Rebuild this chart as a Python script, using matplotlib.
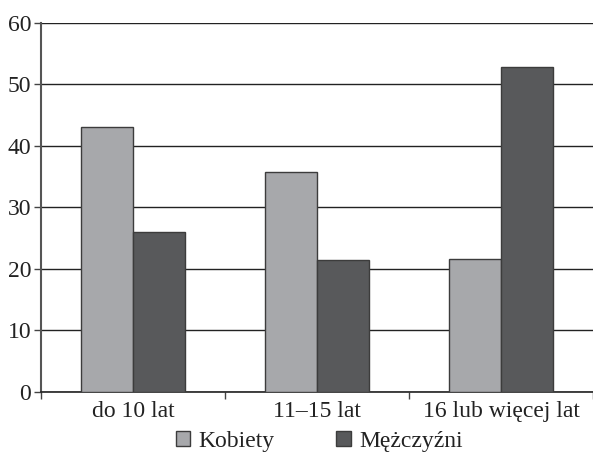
import matplotlib
matplotlib.use("Agg")
import matplotlib.pyplot as plt
import numpy as np

categories = ["do 10 lat", "11\u201315 lat", "16 lub więcej lat"]
series_names = ["Kobiety", "Mężczyźni"]
kobiety = [43.0, 35.7, 21.5]
mezczyzni = [25.9, 21.4, 52.8]
yticks = [0, 10, 20, 30, 40, 50, 60]

plt.rcParams['font.family'] = ['Liberation Serif', 'DejaVu Serif']

fig = plt.figure(figsize=(5.93, 4.55), dpi=100)
ax = fig.add_axes([0.0691, 0.139, 0.9309, 0.8115])

x = np.arange(len(categories))
w = 0.283
light = "#a7a8ab"
dark = "#58595b"
edge = "#3c3c3c"
ax.bar(x - w/2, kobiety, w, color=light, edgecolor=edge, linewidth=1.0, label=series_names[0], zorder=3)
ax.bar(x + w/2, mezczyzni, w, color=dark, edgecolor=edge, linewidth=1.0, label=series_names[1], zorder=3)

ax.set_xlim(-0.5, len(categories) - 0.5)
ax.set_ylim(0, 60)
ax.set_yticks(yticks)
ax.set_yticklabels([str(v) for v in yticks], fontsize=17, color="#222222")
ax.yaxis.grid(True, color="#222222", linewidth=1.0, zorder=0)
ax.set_axisbelow(True)

ax.set_xticks(x)
ax.set_xticklabels(categories, fontsize=17, color="#222222")
ax.tick_params(axis='x', which='major', length=0, pad=7)
ax.set_xticks(np.arange(-0.5, len(categories) + 0.5, 1.0), minor=True)
ax.tick_params(axis='x', which='minor', length=5, width=1.0, color="#444444", direction='out')
ax.tick_params(axis='y', length=5, width=1.0, color="#444444", direction='out', pad=2)

for s in ['top', 'right']:
    ax.spines[s].set_visible(False)
ax.spines['left'].set_color("#555555")
ax.spines['left'].set_linewidth(1.5)
ax.spines['bottom'].set_color("#222222")
ax.spines['bottom'].set_linewidth(1.2)

leg = fig.legend(loc='lower center', bbox_to_anchor=(0.5385, -0.04), ncol=2, frameon=False,
                 fontsize=17, handlelength=0.62, handleheight=0.62, columnspacing=2.6,
                 handletextpad=0.35)
for t in leg.get_texts():
    t.set_color("#222222")

fig.savefig("out.png", dpi=100)
